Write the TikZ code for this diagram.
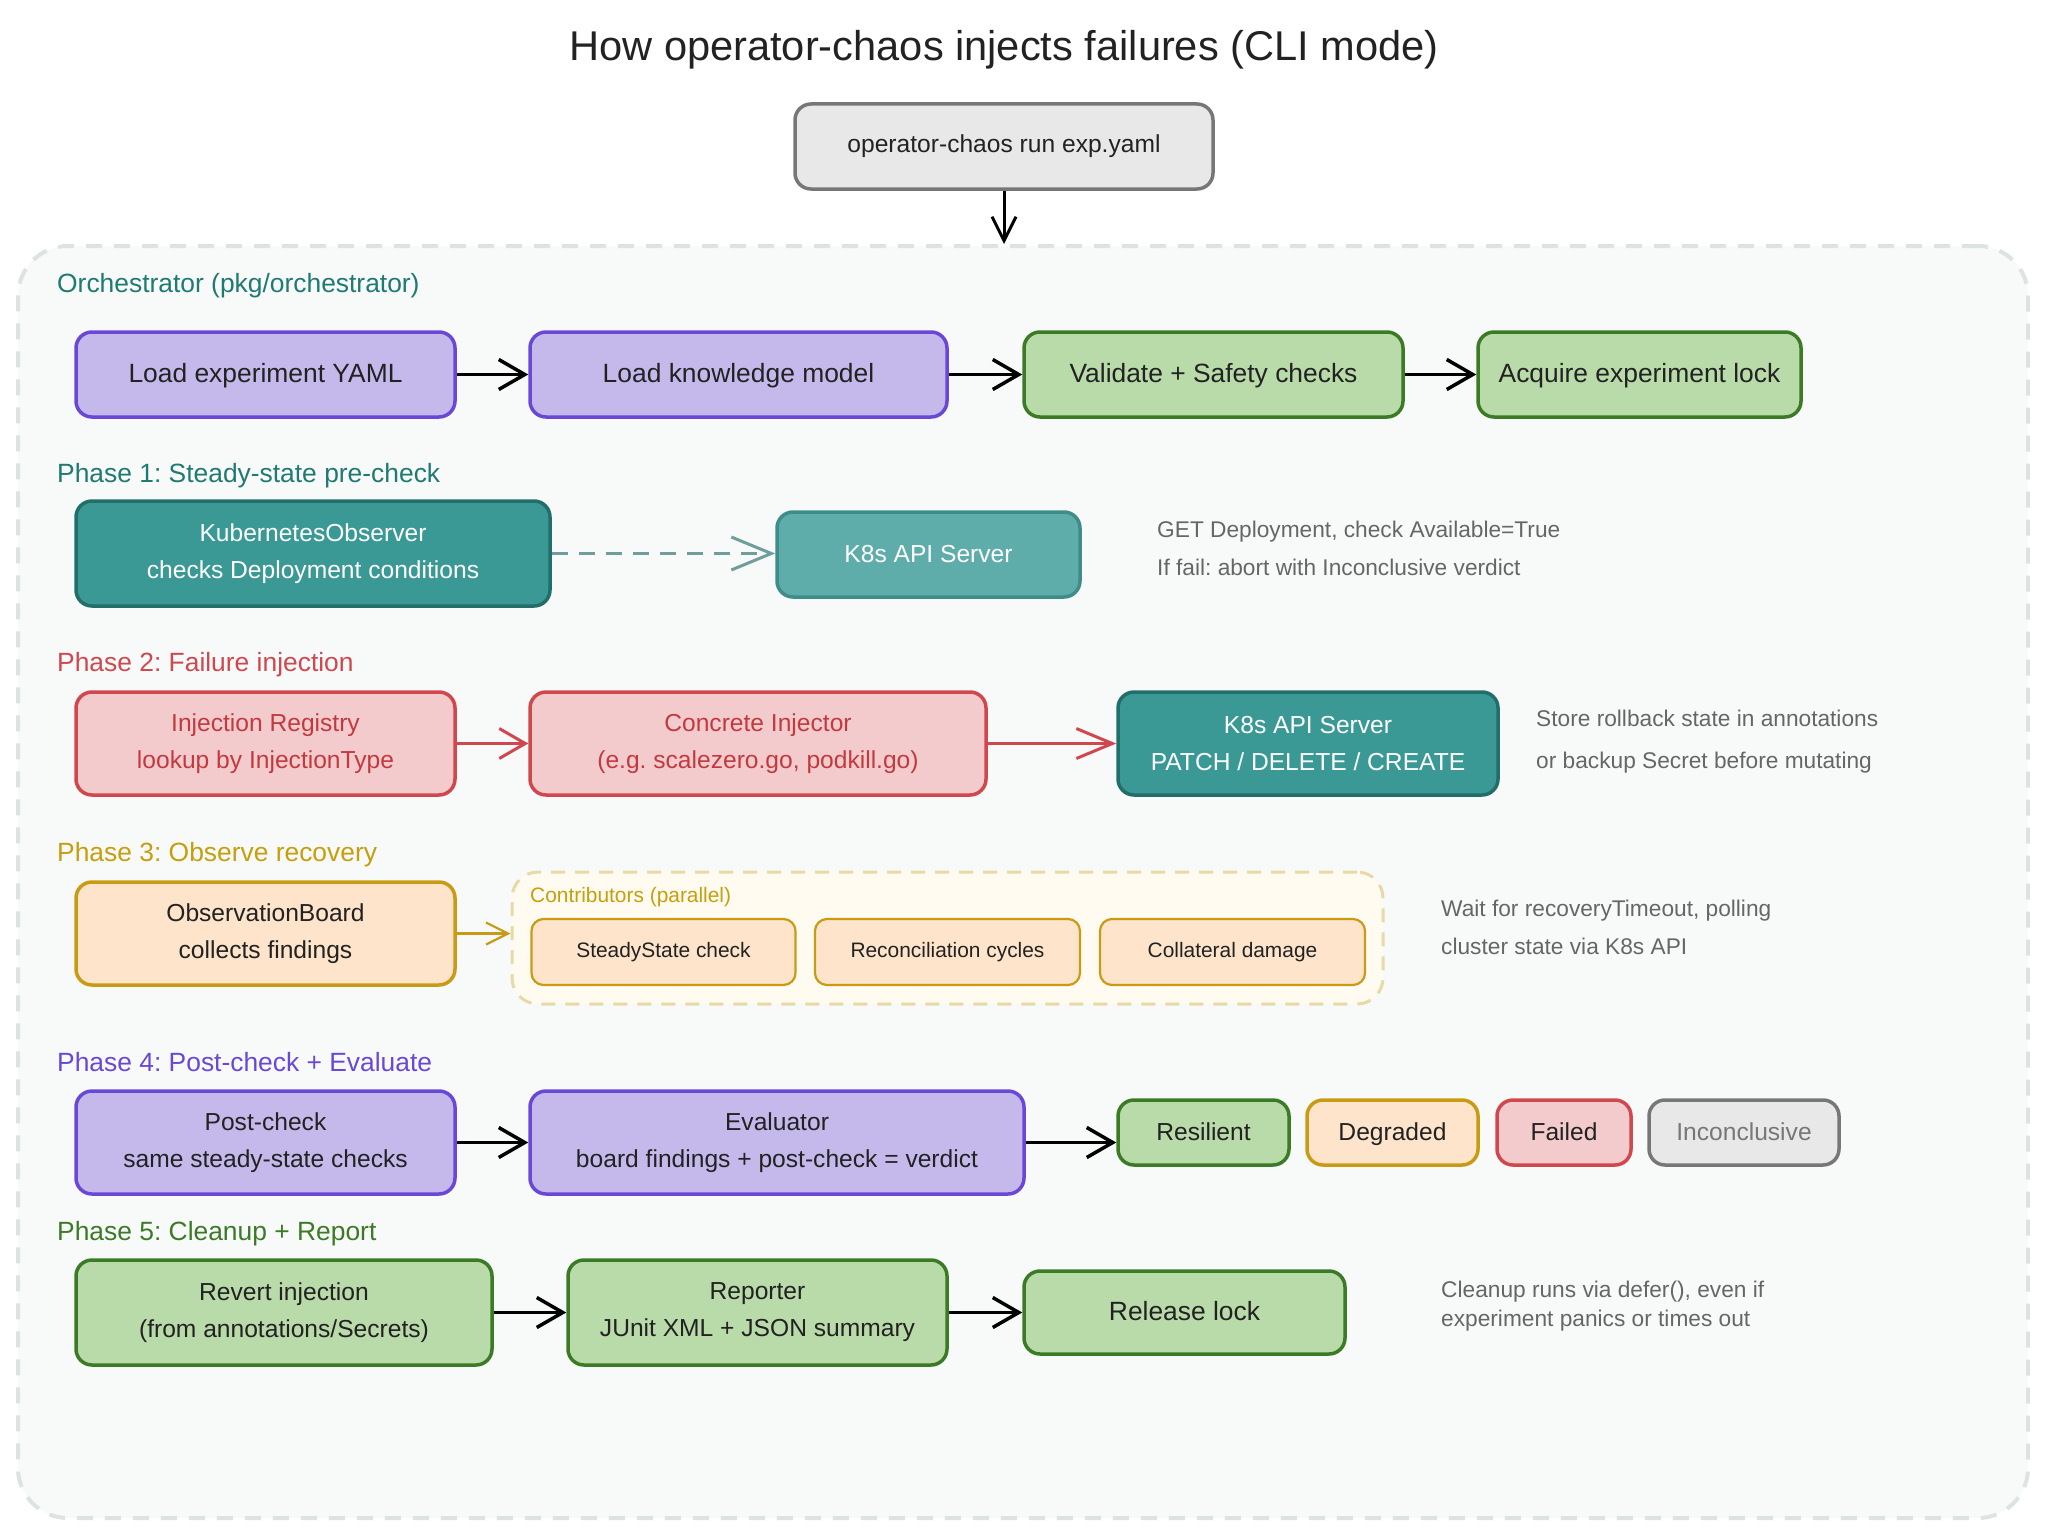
\documentclass[tikz,border=0pt]{standalone}
\usepackage{fontspec}
\setmainfont{Liberation Sans}
\usepackage{xcolor}
\usetikzlibrary{arrows.meta,positioning}
\frenchspacing

\definecolor{purpfill}{HTML}{C5B9EB}
\definecolor{purpline}{HTML}{6A48D7}
\definecolor{grnfill}{HTML}{B9DAA9}
\definecolor{grnline}{HTML}{3C7B26}
\definecolor{tealfill}{HTML}{3B9995}
\definecolor{tealline}{HTML}{226E6A}
\definecolor{tealltfill}{HTML}{5FADAA}
\definecolor{tealltline}{HTML}{3F8D89}
\definecolor{redfill}{HTML}{F4CBCD}
\definecolor{redline}{HTML}{D0484E}
\definecolor{redtext}{HTML}{C23A40}
\definecolor{peachfill}{HTML}{FDE4CA}
\definecolor{goldline}{HTML}{C99B14}
\definecolor{greyfill}{HTML}{E8E8E8}
\definecolor{greyline}{HTML}{777777}
\definecolor{notegrey}{HTML}{666666}
\definecolor{inktext}{HTML}{222222}
\definecolor{tealhead}{HTML}{1F7A72}
\definecolor{goldhead}{HTML}{C79E0C}
\definecolor{framefill}{HTML}{F8FAFA}
\definecolor{frameline}{HTML}{DDE3E3}
\definecolor{contribfill}{HTML}{FFFBF0}
\definecolor{contribline}{HTML}{E8D9A6}
\definecolor{dashteal}{HTML}{6F9E9C}

\tikzset{
  stage/.style={rounded corners=16pt, line width=3.5pt, align=center, inner sep=0pt,
    text=inktext, font=\fontsize{24.6}{37}\selectfont},
  bigtext/.style={font=\fontsize{26.4}{37}\selectfont, text height=20.5pt, text depth=5.5pt},
  purplebox/.style={stage, fill=purpfill, draw=purpline},
  greenbox/.style={stage, fill=grnfill, draw=grnline},
  tealbox/.style={stage, fill=tealfill, draw=tealline, text=white},
  lighttealbox/.style={stage, fill=tealltfill, draw=tealltline, text=white},
  redbox/.style={stage, fill=redfill, draw=redline, text=redtext},
  peachbox/.style={stage, fill=peachfill, draw=goldline},
  greybox/.style={stage, fill=greyfill, draw=greyline},
  contribbox/.style={peachbox, rounded corners=12pt, line width=2.2pt,
    minimum width=264pt, minimum height=66pt, font=\fontsize{20.9}{26}\selectfont},
  verdict/.style={minimum height=65pt, text height=22pt, text depth=5.2pt},
  phaselbl/.style={anchor=west, inner sep=0pt, font=\fontsize{26.4}{30}\selectfont},
  sidenote/.style={anchor=west, align=left, inner sep=0pt, text=notegrey},
  flowarrow/.style={line width=3.5pt, -{Straight Barb[length=26pt,width=30pt]}},
}

\begin{document}
\begin{tikzpicture}[x=1pt, y=-1pt]
\fill[white] (0,0) rectangle (2048,1536);
\useasboundingbox (0,0) rectangle (2048,1536);

% dashed frame round all five phases
\node[draw=frameline, fill=framefill, line width=4pt, dash pattern=on 16pt off 12pt,
  rounded corners=50pt, minimum width=2010pt, minimum height=1272pt] (orch) at (1023,882) {};

\node[font=\fontsize{41.6}{48}\selectfont, text=inktext] (title) at (1004,50)
  {How operator-chaos injects failures (CLI mode)};
\node[greybox, minimum width=418pt, minimum height=85pt] (cli) at (1004,146.5)
  {operator-chaos run exp.yaml};
\draw[line width=3pt, -{Straight Barb[length=24pt,width=24pt]}] (cli.south) -- (cli.south |- orch.north);

% ================= orchestrator =================
\node[phaselbl, text=tealhead] (lblorch) at (57,286) {Orchestrator (pkg/orchestrator)};
\node[purplebox, bigtext, minimum width=379pt, minimum height=85pt] (loadexp) at (265.5,374.5) {Load experiment YAML};
\node[purplebox, bigtext, minimum width=417pt, minimum height=85pt] (loadkm) at (738.5,374.5) {Load knowledge model};
\node[greenbox, bigtext, minimum width=379pt, minimum height=85pt] (validate) at (1213.5,374.5) {Validate + Safety checks};
\node[greenbox, bigtext, minimum width=323pt, minimum height=85pt] (lock) at (1639.5,374.5) {Acquire experiment lock};
\draw[flowarrow] (loadexp) -- (loadkm);
\draw[flowarrow] (loadkm) -- (validate);
\draw[flowarrow] (validate) -- (lock);

% ================= phase 1 =================
\node[phaselbl, text=tealhead] (lblp1) at (57,476) {Phase 1: Steady-state pre-check};
\node[tealbox, minimum width=474pt, minimum height=105pt] (kobs) at (313,553.5)
  {KubernetesObserver\\checks Deployment conditions};
\node[lighttealbox, minimum width=303pt, minimum height=85pt] (apiread) at (928.5,554.5) {K8s API Server};
\draw[line width=3pt, dashteal, dash pattern=on 16pt off 11pt,
  -{Straight Barb[length=40pt,width=33pt]}] (kobs.east) -- (kobs.east -| apiread.west);
\node[sidenote, font=\fontsize{22.7}{38}\selectfont] (notep1) at (1157,548)
  {GET Deployment, check Available=True\\If fail: abort with Inconclusive verdict};

% ================= phase 2 =================
\node[phaselbl, text=redline] (lblp2) at (57,665) {Phase 2: Failure injection};
\node[redbox, minimum width=379pt, minimum height=103pt] (registry) at (265.5,743.5)
  {Injection Registry\\lookup by InjectionType};
\node[redbox, minimum width=456pt, minimum height=103pt] (injector) at (758,743.5)
  {Concrete Injector\\(e.g. scalezero.go, podkill.go)};
\node[tealbox, minimum width=380pt, minimum height=103pt] (apiwrite) at (1308,743.5)
  {K8s API Server\\PATCH / DELETE / CREATE};
\draw[flowarrow, redline, line width=3pt] (registry) -- (injector);
\draw[flowarrow, redline, line width=3pt, -{Straight Barb[length=36pt,width=30pt]}] (injector) -- (apiwrite);
\node[sidenote, font=\fontsize{22.7}{42}\selectfont] (notep2) at (1536,742)
  {Store rollback state in annotations\\or backup Secret before mutating};

% ================= phase 3 =================
\node[phaselbl, text=goldhead] (lblp3) at (57,855) {Phase 3: Observe recovery};
\node[draw=contribline, fill=contribfill, line width=3pt, dash pattern=on 14pt off 10pt,
  rounded corners=26pt, minimum width=871pt, minimum height=132pt] (contrib) at (947.5,938) {};
\node[anchor=west, inner sep=0pt, text=goldhead, font=\fontsize{20.9}{26}\selectfont] (lblcontrib) at (530,897)
  {Contributors (parallel)};
\node[peachbox, minimum width=379pt, minimum height=103pt] (board) at (265.5,933.5)
  {ObservationBoard\\collects findings};
\node[contribbox] (ssc) at (663.5,952) {SteadyState check};
\node[contribbox, minimum width=265pt] (recon) at (947.5,952) {Reconciliation cycles};
\node[contribbox, minimum width=265pt] (collat) at (1232.5,952) {Collateral damage};
\draw[goldline, line width=2.2pt, -{Straight Barb[length=22pt,width=22pt]}] (board.east) -- (board.east -| contrib.west);
\node[sidenote, font=\fontsize{22.7}{38}\selectfont] (notep3) at (1441,927)
  {Wait for recoveryTimeout, polling\\cluster state via K8s API};

% ================= phase 4 =================
\node[phaselbl, text=purpline] (lblp4) at (57,1062) {Phase 4: Post-check + Evaluate};
\node[purplebox, minimum width=379pt, minimum height=103pt] (postchk) at (265.5,1142.5)
  {Post-check\\same steady-state checks};
\node[purplebox, minimum width=494pt, minimum height=103pt] (evaluator) at (777,1142.5)
  {Evaluator\\board findings + post-check = verdict};
\node[greenbox, verdict, minimum width=171pt] (resilient) at (1203.5,1132.5) {Resilient};
\node[peachbox, verdict, minimum width=171pt] (degraded) at (1392.5,1132.5) {Degraded};
\node[redbox, verdict, text=inktext, minimum width=134pt] (failed) at (1564,1132.5) {Failed};
\node[greybox, verdict, text=greyline, minimum width=190pt] (inconcl) at (1744,1132.5) {Inconclusive};
\draw[flowarrow] (postchk) -- (evaluator);
\draw[flowarrow] (evaluator.east) -- (evaluator.east -| resilient.west);

% ================= phase 5 =================
\node[phaselbl, text=grnline] (lblp5) at (57,1234) {Phase 5: Cleanup + Report};
\node[greenbox, minimum width=416pt, minimum height=105pt] (revert) at (284,1312.5)
  {Revert injection\\(from annotations/Secrets)};
\node[greenbox, minimum width=379pt, minimum height=105pt] (reporter) at (757.5,1312.5)
  {Reporter\\JUnit XML + JSON summary};
\node[greenbox, bigtext, minimum width=321pt, minimum height=83pt] (release) at (1184.5,1312.5) {Release lock};
\draw[flowarrow] (revert) -- (reporter);
\draw[flowarrow] (reporter) -- (release);
\node[sidenote, font=\fontsize{22.7}{29}\selectfont] (notep5) at (1441,1306)
  {Cleanup runs via defer(), even if\\experiment panics or times out};

\end{tikzpicture}
\end{document}
